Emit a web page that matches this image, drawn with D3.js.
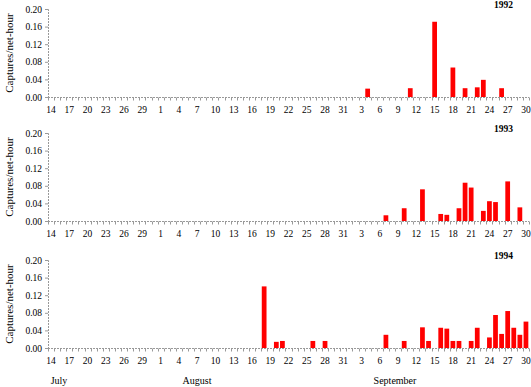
<!DOCTYPE html>
<html>
<head>
<meta charset="utf-8">
<script src="https://cdn.jsdelivr.net/npm/d3@7"></script>
<style>
  body { margin: 0; background: #fff; }
  svg { display: block; }
  svg text { font-family: "Liberation Serif", "Times New Roman", serif; fill: #000; }
  .axis path, .axis line { stroke: #999; }
  .axis text { font-size: 9.5px; }
</style>
</head>
<body>
<div id="chart"></div>
<script>
// categories: every day from 14 July to 30 September
var months = ["July", "August", "September"];
var monthStart = [14, 1, 1];
var monthEnd = [31, 31, 30];
var categories = [];
months.forEach(function (m, i) {
    d3.range(monthStart[i], monthEnd[i] + 1).forEach(function (d) {
        categories.push(m.slice(0, 3) + " " + d);
    });
});

// tick labels shown along the x axis
var tickLabels = ["Jul 14", "Jul 17", "Jul 20", "Jul 23", "Jul 26", "Jul 29",
    "Aug 1", "Aug 4", "Aug 7", "Aug 10", "Aug 13", "Aug 16", "Aug 19", "Aug 22",
    "Aug 25", "Aug 28", "Aug 31", "Sep 3", "Sep 6", "Sep 9", "Sep 12", "Sep 15",
    "Sep 18", "Sep 21", "Sep 24", "Sep 27", "Sep 30"];
var yTicks = [0, 0.04, 0.08, 0.12, 0.16, 0.20];

// captures per net-hour, by year
var years = ["1992", "1993", "1994"];
var days1992 = ["Sep 4", "Sep 11", "Sep 15", "Sep 18", "Sep 20", "Sep 22", "Sep 23", "Sep 26"];
var values1992 = [0.019, 0.02, 0.171, 0.067, 0.02, 0.022, 0.039, 0.02];
var days1993 = ["Sep 7", "Sep 10", "Sep 13", "Sep 16", "Sep 17", "Sep 19", "Sep 20",
    "Sep 21", "Sep 23", "Sep 24", "Sep 25", "Sep 27", "Sep 29"];
var values1993 = [0.013, 0.029, 0.072, 0.016, 0.014, 0.029, 0.087, 0.076, 0.023,
    0.045, 0.043, 0.09, 0.031];
var days1994 = ["Aug 18", "Aug 20", "Aug 21", "Aug 26", "Aug 28", "Sep 7", "Sep 10",
    "Sep 13", "Sep 14", "Sep 16", "Sep 17", "Sep 18", "Sep 19", "Sep 21", "Sep 22",
    "Sep 24", "Sep 25", "Sep 26", "Sep 27", "Sep 28", "Sep 29", "Sep 30"];
var values1994 = [0.14, 0.014, 0.016, 0.016, 0.016, 0.03, 0.016, 0.047, 0.016,
    0.046, 0.044, 0.016, 0.016, 0.016, 0.046, 0.024, 0.075, 0.032, 0.084, 0.046,
    0.03, 0.06];

var dayLists = [days1992, days1993, days1994];
var valueLists = [values1992, values1993, values1994];

// layout
var width = 531, height = 387;
var panelTop = [9, 133, 260];
var panelHeight = 88;
var left = 48, right = 529;

var svg = d3.select("#chart")
    .append("svg")
    .attr("width", width)
    .attr("height", height);

var x = d3.scaleBand()
    .domain(categories)
    .range([left, right])
    .paddingInner(0.22)
    .paddingOuter(0.11);

years.forEach(function (year, p) {
    var g = svg.append("g");
    var y = d3.scaleLinear()
        .domain([0, 0.2])
        .range([panelTop[p] + panelHeight, panelTop[p]]);

    // bars
    var data = dayLists[p].map(function (d, i) { return { day: d, value: valueLists[p][i] }; });
    g.selectAll(".bar")
        .data(data)
        .enter().append("rect")
        .attr("class", "bar")
        .attr("x", function (d) { return x(d.day); })
        .attr("width", x.bandwidth())
        .attr("y", function (d) { return y(d.value); })
        .attr("height", function (d) { return y(0) - y(d.value); })
        .style("fill", "#ff0000");

    // y axis
    var yAxis = g.append("g")
        .attr("class", "axis")
        .attr("transform", "translate(" + left + ",0)")
        .call(d3.axisLeft(y).tickValues(yTicks).tickSize(3).tickPadding(3)
            .tickFormat(d3.format(".2f")));
    yAxis.attr("font-family", null).attr("font-size", null);
    yAxis.select(".domain").attr("stroke-dasharray", "2,1");

    // x axis: ticks at category boundaries, labels centred on categories
    var bounds = categories.map(function (c) { return x(c) - x.step() * x.paddingInner() / 2; });
    bounds.push(right);
    var xAxis = g.append("g")
        .attr("class", "axis")
        .attr("transform", "translate(0," + y(0) + ")");
    xAxis.append("line")
        .attr("x1", left).attr("x2", right)
        .attr("y1", 0.5).attr("y2", 0.5)
        .attr("stroke-dasharray", "2,1");
    xAxis.selectAll(".tick")
        .data(bounds)
        .enter().append("line")
        .attr("x1", function (d) { return Math.round(d) + 0.5; })
        .attr("x2", function (d) { return Math.round(d) + 0.5; })
        .attr("y1", 0.5).attr("y2", 3.5);
    xAxis.selectAll(".lbl")
        .data(tickLabels)
        .enter().append("text")
        .attr("x", function (d) { return x(d) + x.bandwidth() / 2; })
        .attr("y", 15.5)
        .attr("text-anchor", "middle")
        .text(function (d) { return d.split(" ")[1]; });

    // year label
    g.append("text")
        .attr("x", 513)
        .attr("y", panelTop[p] - 1)
        .attr("text-anchor", "end")
        .style("font-size", "9.5px")
        .style("font-weight", "bold")
        .text(year);

    // y title
    g.append("text")
        .attr("transform", "translate(13," + (panelTop[p] + panelHeight / 2) + ") rotate(-90)")
        .attr("text-anchor", "middle")
        .style("font-size", "11px")
        .text("Captures/net-hour");
});

// month labels
var monthX = [59, 197, 395];
svg.selectAll(".month")
    .data(months)
    .enter().append("text")
    .attr("x", function (d, i) { return monthX[i]; })
    .attr("y", 384)
    .attr("text-anchor", "middle")
    .style("font-size", "10px")
    .text(function (d) { return d; });
</script>
</body>
</html>
